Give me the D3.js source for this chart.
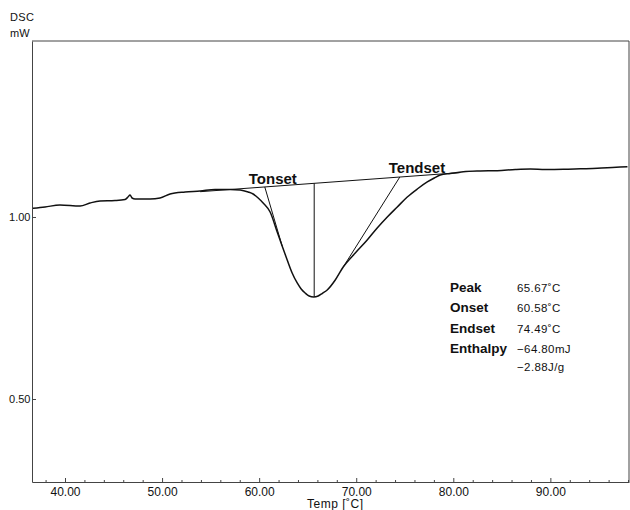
<!DOCTYPE html>
<html>
<head>
<meta charset="utf-8">
<script src="https://cdn.jsdelivr.net/npm/d3@7"></script>
<style>
  html, body { margin: 0; padding: 0; background: #fff; }
  svg { display: block; }
  text { font-family: "Liberation Sans", Arial, sans-serif; fill: #111; }
</style>
</head>
<body>
<svg id="chart" width="630" height="510"></svg>
<script>
// DSC thermogram: temperature (°C) vs heat flow (mW)
const temps = [36.70, 37.94, 39.48, 41.55, 42.58, 43.61, 45.15, 46.19, 46.49, 46.70, 46.91, 47.22,
  48.76, 49.79, 50.82, 52.37, 53.92, 55.46, 57.01, 58.04, 58.87, 59.38, 59.90, 60.41, 61.13,
  61.86, 62.37, 62.89, 63.40, 63.92, 64.33, 64.74, 65.15, 65.62, 66.08, 66.49, 67.01, 67.84,
  68.66, 69.90, 71.13, 72.16, 73.20, 74.23, 75.26, 76.29, 77.32, 78.04, 78.66, 79.69, 81.03,
  82.78, 84.54, 86.39, 87.94, 89.48, 91.34, 93.09, 94.85, 96.39, 97.94];
const dsc = [1.0239, 1.0275, 1.0330, 1.0302, 1.0385, 1.0440, 1.0453, 1.0481, 1.0549, 1.0604, 1.0522, 1.0495,
  1.0495, 1.0522, 1.0632, 1.0687, 1.0714, 1.0755, 1.0755, 1.0742, 1.0687, 1.0632, 1.0522, 1.0385, 1.0137,
  0.9588, 0.9203, 0.8819, 0.8462, 0.8187, 0.8022, 0.7912, 0.7830, 0.7802, 0.7830, 0.7898, 0.7995, 0.8269,
  0.8626, 0.9011, 0.9368, 0.9698, 1.0000, 1.0275, 1.0549, 1.0769, 1.0962, 1.1071, 1.1154, 1.1195, 1.1245,
  1.1264, 1.1272, 1.1305, 1.1319, 1.1305, 1.1310, 1.1324, 1.1338, 1.1360, 1.1382];

// Interpolated baseline under the melting peak
const baselineT = [53.92, 80.72];
const baselineV = [1.0695, 1.1220];

// Characteristic temperatures and tangent contact points
const onsetT = 60.58, peakT = 65.67, endsetT = 74.49;
const peakV = 0.7802;
const onsetTouch = [62.37, 0.9203];
const endsetTouch = [68.66, 0.8626];

// Axis ticks
const xMajor = [40, 50, 60, 70, 80, 90];
const xMinor = [38, 42, 44, 46, 48, 52, 54, 56, 58, 62, 64, 66, 68, 72, 74, 76, 78, 82, 84, 86, 88, 92, 94, 96, 98];
const yMajor = [0.5, 1.0];

// Result table
const resultLabels = ["Peak", "Onset", "Endset", "Enthalpy", ""];
const resultValues = ["65.67˚C", "60.58˚C", "74.49˚C", "−64.80mJ", "−2.88J/g"];

const svg = d3.select("#chart");
const plotL = 32, plotR = 629, plotT = 41, plotB = 482;

const x = d3.scaleLinear().domain([36.6, 98.1]).range([plotL, plotR]);
const y = d3.scaleLinear().domain([0.272, 1.4835]).range([plotB, plotT]);
const base = d3.scaleLinear().domain(baselineT).range(baselineV);

// Frame
svg.append("line").attr("x1", plotL).attr("x2", plotR).attr("y1", plotT).attr("y2", plotT)
  .attr("stroke", "#444").attr("stroke-width", 1);
svg.append("line").attr("x1", plotR).attr("x2", plotR).attr("y1", plotT).attr("y2", plotB)
  .attr("stroke", "#444").attr("stroke-width", 1);

// X axis (ticks point into the plot)
const xAxis = svg.append("g").attr("transform", `translate(0,${plotB})`)
  .call(d3.axisBottom(x).tickValues(xMajor).tickSize(-4).tickSizeOuter(0).tickPadding(5)
    .tickFormat(d3.format(".2f")));
xAxis.selectAll("text").style("font-size", "12px").attr("fill", "#111");
svg.append("g").attr("transform", `translate(0,${plotB})`)
  .call(d3.axisBottom(x).tickValues(xMinor).tickSize(-2).tickSizeOuter(0).tickFormat(""))
  .select(".domain").remove();

// Y axis
const yAxis = svg.append("g").attr("transform", `translate(${plotL},0)`)
  .call(d3.axisLeft(y).tickValues(yMajor).tickSize(-4).tickSizeOuter(0).tickPadding(1.5)
    .tickFormat(d3.format(".2f")));
yAxis.selectAll("text").style("font-size", "11px").attr("fill", "#111");

svg.selectAll(".domain, .tick line").attr("stroke", "#444");

// Axis titles
svg.append("text").attr("x", 10).attr("y", 20.5).style("font-size", "11px")
  .style("letter-spacing", "0.4px").text("DSC");
svg.append("text").attr("x", 10).attr("y", 37).style("font-size", "11px").text("mW");
svg.append("text").attr("x", 307).attr("y", 508).style("font-size", "12px")
  .style("letter-spacing", "0.5px").text("Temp [˚C]");

// Thermogram
const line = d3.line().x(d => x(d[0])).y(d => y(d[1])).curve(d3.curveMonotoneX);
svg.append("path").datum(d3.zip(temps, dsc)).attr("d", line)
  .attr("fill", "none").attr("stroke", "#111").attr("stroke-width", 1.5)
  .attr("stroke-linejoin", "round");

// Baseline, tangents and peak marker
const seg = d3.line().x(d => x(d[0])).y(d => y(d[1]));
const thin = p => svg.append("path").attr("d", seg(p)).attr("fill", "none")
  .attr("stroke", "#111").attr("stroke-width", 1);
thin(d3.zip(baselineT, baselineV));
thin([[onsetT, base(onsetT)], onsetTouch]);
thin([[endsetT, base(endsetT)], endsetTouch]);
thin([[peakT, base(peakT)], [peakT, peakV]]);

// Tonset / Tendset labels
svg.append("text").attr("x", x(onsetT) - 16).attr("y", y(base(onsetT)) - 3)
  .style("font-size", "15px").style("font-weight", "bold").text("Tonset");
svg.append("text").attr("x", x(endsetT) - 11).attr("y", y(base(endsetT)) - 4.5)
  .style("font-size", "15px").style("font-weight", "bold").text("Tendset");

// Result table
const rowY = [292, 312, 333, 353, 371];
resultLabels.forEach((lab, i) => {
  if (lab) svg.append("text").attr("x", 450).attr("y", rowY[i])
    .style("font-size", "13.5px").style("font-weight", "bold").text(lab);
  svg.append("text").attr("x", 517).attr("y", rowY[i])
    .style("font-size", "11.5px").style("letter-spacing", "0.4px").text(resultValues[i]);
});
</script>
</body>
</html>
